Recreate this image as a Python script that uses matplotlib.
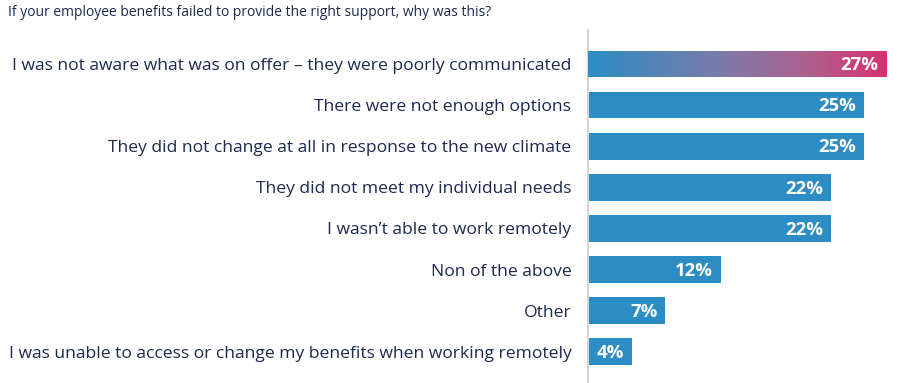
import matplotlib.pyplot as plt
import numpy as np
from matplotlib.colors import LinearSegmentedColormap
from matplotlib.patches import Rectangle

plt.rcParams['font.family'] = ['Open Sans', 'DejaVu Sans']

categories = [
    'I was not aware what was on offer \u2013 they were poorly communicated',
    'There were not enough options',
    'They did not change at all in response to the new climate',
    'They did not meet my individual needs',
    'I wasn\u2019t able to work remotely',
    'Non of the above',
    'Other',
    'I was unable to access or change my benefits when working remotely',
]
values = [27, 25, 25, 22, 22, 12, 7, 4]
labels = ['27%', '25%', '25%', '22%', '22%', '12%', '7%', '4%']

blue = '#2c8dc4'
pink = '#d8306f'
text_col = '#1b2a4e'

fig = plt.figure(figsize=(9, 3.83), dpi=100)
ax = fig.add_axes([588 / 900, 0, 1 - 588 / 900, 353 / 383])

y = np.arange(len(values))
bh = 0.65
bars = ax.barh(y, values, height=bh, color=blue, zorder=2)

# gradient on the first bar
grad = LinearSegmentedColormap.from_list(
    'g', [(0, blue), (0.45, '#7c7aa8'), (0.75, '#b05e8c'), (1, pink)])
g = np.linspace(0, 1, 256).reshape(1, -1)
im = ax.imshow(g, cmap=grad, aspect='auto', zorder=3,
               extent=[0, values[0], y[0] + bh / 2, y[0] - bh / 2])
clip = Rectangle((0, y[0] - bh / 2), values[0], bh, transform=ax.transData)
im.set_clip_path(clip)

for yi, v, lab in zip(y, values, labels):
    ax.text(v - 0.72, yi + 0.03, lab, ha='right', va='center', color='white',
            fontsize=13.3, fontweight='bold', zorder=4)

ax.set_xlim(0, 312 / 11.05)
ax.set_ylim(7.76, -0.827)
ax.set_yticks(y)
ax.set_yticklabels(categories, fontsize=12.6, color=text_col)
ax.tick_params(axis='y', length=0, pad=12)
ax.set_xticks([])
for s in ['top', 'right', 'bottom']:
    ax.spines[s].set_visible(False)
ax.spines['left'].set_color('#d5d5d5')
ax.spines['left'].set_linewidth(1.5)

fig.text(8 / 900, 1 - 13 / 383, 'If your employee benefits failed to provide the right support, why was this?',
         ha='left', va='center', fontsize=10.0, color=text_col)

fig.savefig('out.png', dpi=100)
